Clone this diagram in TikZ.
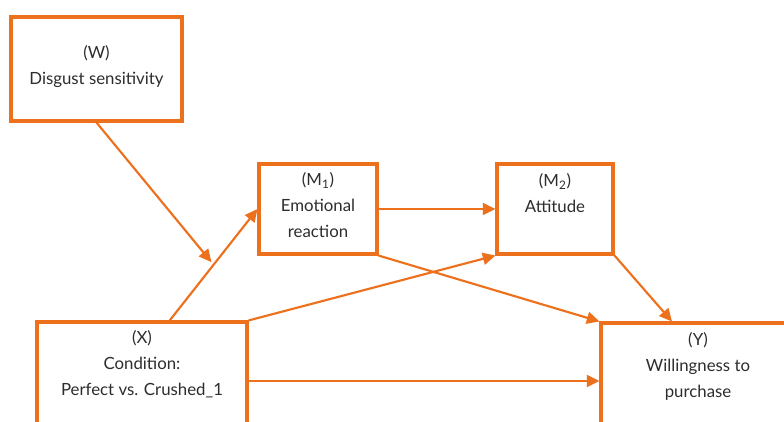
\documentclass[tikz,border=0pt]{standalone}
\usepackage{fontspec}
\setmainfont{Lato}
\usetikzlibrary{positioning,arrows.meta,calc}
\definecolor{pathorange}{RGB}{237,113,28}
\definecolor{labelgray}{RGB}{45,45,45}

\begin{document}
\begin{tikzpicture}[x=0.75pt,y=-0.75pt,
    varbox/.style={draw=pathorange,line width=2.3pt,fill=white,inner sep=0pt},
    vartext/.style={text=labelgray,font=\fontsize{12.6}{19.5}\selectfont,align=center,inner sep=0pt},
    effect/.style={draw=pathorange,line width=1.6pt,-{Triangle[length=9.5pt,width=9pt]}}]
  \clip (0,0) rectangle (784,421);
  \fill[white] (0,0) rectangle (784,421);

  % variables
  \node[varbox,minimum width=128.25pt,minimum height=78pt] (W) at (96.5,69) {};
  \node[varbox,minimum width=88.5pt,minimum height=67.5pt] (M1) at (318,209) {};
  \node[varbox,minimum width=87pt,minimum height=67.5pt] (M2) at (555,209) {};
  \node[varbox,minimum width=157.5pt,minimum height=88.5pt] (X) at (142,381) {};
  \node[varbox,minimum width=145.5pt,minimum height=87pt] (Y) at (698,381) {};

  \node[vartext] (wtext) at (96.5,66.5) {(W)\\Disgust sensitivity};
  \node[vartext] (m1text) at (318,205) {(M\textsubscript{1})\\Emotional\\reaction};
  \node[vartext] (m2text) at (555,193.5) {(M\textsubscript{2})\\Attitude};
  \node[vartext] (xtext) at (142,364) {(X)\\Condition:\\Perfect vs. Crushed\_1};
  \node[vartext] (ytext) at (698,366.5) {(Y)\\Willingness to\\purchase};

  % paths
  \coordinate (xtop) at ($(X.north west)!0.63!(X.north east)$);
  \draw[effect] (xtop) -- (M1.west) coordinate[pos=0.5] (modpt);
  \draw[effect,shorten >=2.5pt] (W.south) -- (modpt);
  \draw[effect] (M1.east) -- (M2.west);
  \draw[effect] (X.north east) -- (M2.south west);
  \draw[effect] (M1.south east) -- (Y.north west);
  \draw[effect] (M2.south east) -- ([xshift=-19.5pt]Y.north);
  \draw[effect] (X.east) -- (Y.west);
\end{tikzpicture}
\end{document}
